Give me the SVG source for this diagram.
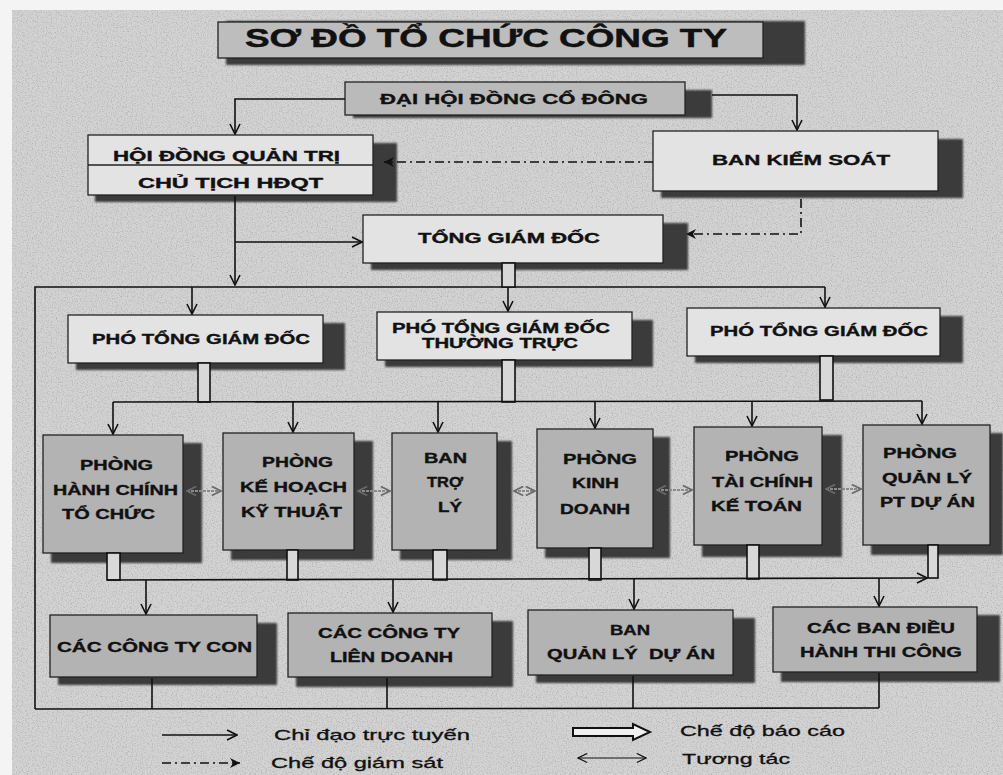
<svg xmlns="http://www.w3.org/2000/svg" width="1003" height="775" viewBox="0 0 1003 775">
<style>
.bg{fill:#d3d3d3}
.sh{fill:#3a3a3a;filter:url(#blur)}
.bl{fill:#e3e3e3;stroke:#222;stroke-width:1.3}
.bd{fill:#b3b3b3;stroke:#222;stroke-width:1.3}
.lbl{font-family:"Liberation Sans",Arial,sans-serif;font-weight:bold;font-size:14px;fill:#111;stroke:#111;stroke-width:0.35}
.ttl{font-family:"Liberation Sans",Arial,sans-serif;font-weight:bold;font-size:26px;fill:#111;stroke:#111;stroke-width:0.5}
.leg{font-family:"Liberation Sans",Arial,sans-serif;font-size:15px;fill:#111;stroke:#111;stroke-width:0.3}
.c{fill:none;stroke:#111;stroke-width:1.6}
.sup{fill:none;stroke:#111;stroke-width:1.6;stroke-dasharray:9 4 2 4}
.rep{fill:#d8d8d8;stroke:#111;stroke-width:1.6}
.int{fill:none;stroke:#8a8a8a;stroke-width:2;stroke-dasharray:3 1}
</style>
<defs>
<filter id="blur" x="-5%" y="-10%" width="110%" height="120%"><feGaussianBlur stdDeviation="1"/></filter>
<filter id="noise" x="0" y="0" width="100%" height="100%"><feTurbulence type="fractalNoise" baseFrequency="0.8" numOctaves="2" seed="4"/><feColorMatrix type="matrix" values="0 0 0 0 0.2  0 0 0 0 0.2  0 0 0 0 0.2  1.6 0 0 0 -0.75"/></filter>
<marker id="arr" viewBox="0 0 12 12" refX="11" refY="6" markerWidth="12" markerHeight="12" markerUnits="userSpaceOnUse" orient="auto"><path d="M1,1 L11,6 L1,11" fill="none" stroke="#111" stroke-width="1.6"/></marker>
<marker id="arrg" viewBox="0 0 12 12" refX="11" refY="6" markerWidth="11" markerHeight="11" markerUnits="userSpaceOnUse" orient="auto-start-reverse"><path d="M1,1 L11,6 L1,11" fill="none" stroke="#6a6a6a" stroke-width="1.8"/></marker>
<marker id="arrt" viewBox="0 0 12 12" refX="11" refY="6" markerWidth="11" markerHeight="11" markerUnits="userSpaceOnUse" orient="auto-start-reverse"><path d="M1,1 L11,6 L1,11" fill="none" stroke="#111" stroke-width="1.3"/></marker>
<marker id="arrf" viewBox="0 0 12 12" refX="11" refY="6" markerWidth="12" markerHeight="12" markerUnits="userSpaceOnUse" orient="auto"><path d="M1,1 L11,6 L1,11 L4,6 Z" fill="#111"/></marker>
</defs>

<rect x="0" y="0" width="1003" height="775" fill="#f4f4f4"/>
<rect class="bg" x="12" y="10" width="991" height="765"/>
<rect x="12" y="10" width="991" height="765" filter="url(#noise)" opacity="0.6"/>

<g id="title">
<rect class="sh" x="226" y="21" width="579" height="44"/>
<rect class="bd" x="218" y="22" width="545" height="36" style="fill:#bdbdbd"/>
<text class="ttl" x="245" y="47" textLength="482" lengthAdjust="spacingAndGlyphs">SƠ ĐỒ TỔ CHỨC CÔNG TY</text>
</g>

<g id="n-dhdcd">
<rect class="sh" x="353" y="90" width="359" height="28"/>
<rect class="bd" x="345" y="82" width="340" height="33" style="fill:#bababa"/>
<text class="lbl" x="380" y="104" textLength="268" lengthAdjust="spacingAndGlyphs">ĐẠI HỘI ĐỒNG CỔ ĐÔNG</text>
</g>

<g id="n-hdqt">
<rect class="sh" x="95" y="143" width="302" height="59"/>
<rect class="bl" x="88" y="135" width="285" height="60"/>
<line x1="88" y1="165" x2="373" y2="165" stroke="#222" stroke-width="1.3"/>
<text class="lbl" x="113" y="161" textLength="227" lengthAdjust="spacingAndGlyphs">HỘI ĐỒNG QUẢN TRỊ</text>
<text class="lbl" x="138" y="188" textLength="185" lengthAdjust="spacingAndGlyphs">CHỦ TỊCH HĐQT</text>
</g>

<g id="n-bks">
<rect class="sh" x="661" y="139" width="302" height="59"/>
<rect class="bl" x="653" y="131" width="285" height="60"/>
<text class="lbl" x="712" y="165" textLength="178" lengthAdjust="spacingAndGlyphs">BAN KIỂM SOÁT</text>
</g>

<g id="n-tgd">
<rect class="sh" x="371" y="223" width="317" height="47"/>
<rect class="bl" x="363" y="215" width="300" height="48"/>
<text class="lbl" x="418" y="243" textLength="182" lengthAdjust="spacingAndGlyphs">TỔNG GIÁM ĐỐC</text>
</g>

<g id="n-ptgd1">
<rect class="sh" x="76" y="323" width="269" height="47"/>
<rect class="bl" x="68" y="315" width="255" height="48"/>
<text class="lbl" x="92" y="344" textLength="218" lengthAdjust="spacingAndGlyphs">PHÓ TỔNG GIÁM ĐỐC</text>
</g>

<g id="n-ptgd2">
<rect class="sh" x="385" y="320" width="268" height="47"/>
<rect class="bl" x="377" y="312" width="255" height="48"/>
<text class="lbl" x="392" y="333" textLength="218" lengthAdjust="spacingAndGlyphs">PHÓ TỔNG GIÁM ĐỐC</text>
<text class="lbl" x="422" y="348" textLength="156" lengthAdjust="spacingAndGlyphs">THƯỜNG TRỰC</text>
</g>

<g id="n-ptgd3">
<rect class="sh" x="695" y="316" width="268" height="47"/>
<rect class="bl" x="687" y="308" width="253" height="48"/>
<text class="lbl" x="710" y="336" textLength="218" lengthAdjust="spacingAndGlyphs">PHÓ TỔNG GIÁM ĐỐC</text>
</g>

<g id="n-hcth">
<rect class="sh" x="51" y="443" width="151" height="120"/>
<rect class="bd" x="43" y="435" width="140" height="118"/>
<text class="lbl" x="80" y="470" textLength="73" lengthAdjust="spacingAndGlyphs">PHÒNG</text>
<text class="lbl" x="53" y="495" textLength="125" lengthAdjust="spacingAndGlyphs">HÀNH CHÍNH</text>
<text class="lbl" x="62" y="519" textLength="93" lengthAdjust="spacingAndGlyphs">TỔ CHỨC</text>
</g>

<g id="n-khkt">
<rect class="sh" x="231" y="441" width="142" height="119"/>
<rect class="bd" x="223" y="433" width="131" height="117"/>
<text class="lbl" x="262" y="467" textLength="71" lengthAdjust="spacingAndGlyphs">PHÒNG</text>
<text class="lbl" x="240" y="492" textLength="107" lengthAdjust="spacingAndGlyphs">KẾ HOẠCH</text>
<text class="lbl" x="241" y="517" textLength="101" lengthAdjust="spacingAndGlyphs">KỸ THUẬT</text>
</g>

<g id="n-btl">
<rect class="sh" x="400" y="441" width="112" height="119"/>
<rect class="bd" x="392" y="433" width="105" height="117"/>
<text class="lbl" x="424" y="463" textLength="43" lengthAdjust="spacingAndGlyphs">BAN</text>
<text class="lbl" x="427" y="487" textLength="36" lengthAdjust="spacingAndGlyphs">TRỢ</text>
<text class="lbl" x="438" y="512" textLength="24" lengthAdjust="spacingAndGlyphs">LÝ</text>
</g>

<g id="n-kd">
<rect class="sh" x="545" y="437" width="125" height="121"/>
<rect class="bd" x="537" y="429" width="116" height="119"/>
<text class="lbl" x="563" y="464" textLength="74" lengthAdjust="spacingAndGlyphs">PHÒNG</text>
<text class="lbl" x="572" y="488" textLength="47" lengthAdjust="spacingAndGlyphs">KINH</text>
<text class="lbl" x="560" y="514" textLength="70" lengthAdjust="spacingAndGlyphs">DOANH</text>
</g>

<g id="n-tckt">
<rect class="sh" x="702" y="435" width="140" height="122"/>
<rect class="bd" x="694" y="427" width="128" height="118"/>
<text class="lbl" x="725" y="461" textLength="74" lengthAdjust="spacingAndGlyphs">PHÒNG</text>
<text class="lbl" x="712" y="487" textLength="101" lengthAdjust="spacingAndGlyphs">TÀI CHÍNH</text>
<text class="lbl" x="711" y="511" textLength="91" lengthAdjust="spacingAndGlyphs">KẾ TOÁN</text>
</g>

<g id="n-qlda">
<rect class="sh" x="871" y="433" width="132" height="122"/>
<rect class="bd" x="863" y="425" width="127" height="120"/>
<text class="lbl" x="883" y="458" textLength="74" lengthAdjust="spacingAndGlyphs">PHÒNG</text>
<text class="lbl" x="882" y="483" textLength="90" lengthAdjust="spacingAndGlyphs">QUẢN LÝ</text>
<text class="lbl" x="880" y="507" textLength="95" lengthAdjust="spacingAndGlyphs">PT DỰ ÁN</text>
</g>

<g id="n-ctcon">
<rect class="sh" x="58" y="623" width="219" height="62"/>
<rect class="bd" x="50" y="615" width="207" height="62"/>
<text class="lbl" x="57" y="652" textLength="195" lengthAdjust="spacingAndGlyphs">CÁC CÔNG TY CON</text>
</g>

<g id="n-ctld">
<rect class="sh" x="296" y="621" width="217" height="66"/>
<rect class="bd" x="288" y="613" width="204" height="64"/>
<text class="lbl" x="318" y="638" textLength="142" lengthAdjust="spacingAndGlyphs">CÁC CÔNG TY</text>
<text class="lbl" x="330" y="662" textLength="123" lengthAdjust="spacingAndGlyphs">LIÊN DOANH</text>
</g>

<g id="n-bqlda">
<rect class="sh" x="536" y="618" width="219" height="65"/>
<rect class="bd" x="528" y="610" width="205" height="65"/>
<text class="lbl" x="610" y="635" textLength="40" lengthAdjust="spacingAndGlyphs">BAN</text>
<text class="lbl" x="547" y="659" textLength="168" lengthAdjust="spacingAndGlyphs" xml:space="preserve">QUẢN LÝ  DỰ ÁN</text>
</g>

<g id="n-cbdh">
<rect class="sh" x="781" y="615" width="219" height="67"/>
<rect class="bd" x="773" y="607" width="204" height="65"/>
<text class="lbl" x="807" y="633" textLength="148" lengthAdjust="spacingAndGlyphs">CÁC BAN ĐIỀU</text>
<text class="lbl" x="800" y="657" textLength="162" lengthAdjust="spacingAndGlyphs">HÀNH THI CÔNG</text>
</g>

<g id="connectors">
<polyline class="c" points="345,99 235,99 235,134" marker-end="url(#arr)"/>
<polyline class="c" points="712,95 797,95 797,130" marker-end="url(#arr)"/>
<polyline class="sup" points="653,162 384,162" marker-end="url(#arrf)"/>
<polyline class="sup" points="801,199 801,234 686,234" marker-end="url(#arrf)"/>
<polyline class="c" points="235,196 235,285" marker-end="url(#arr)"/>
<polyline class="c" points="235,242 362,242" marker-end="url(#arr)"/>
<polyline class="c" points="35,709 35,287 825,287"/>
<polyline class="c" points="192,287 192,314" marker-end="url(#arr)"/>
<polyline class="c" points="508,287 508,311" marker-end="url(#arr)"/>
<polyline class="c" points="825,287 825,307" marker-end="url(#arr)"/>
<rect class="rep" x="502" y="263" width="13" height="24"/>
<rect class="rep" x="198" y="363" width="12" height="39"/>
<rect class="rep" x="502" y="360" width="13" height="42"/>
<rect class="rep" x="820" y="356" width="13" height="44"/>
<polyline class="c" points="113,402 922,401"/>
<polyline class="c" points="113,402 113,434" marker-end="url(#arr)"/>
<polyline class="c" points="293,402 293,432" marker-end="url(#arr)"/>
<polyline class="c" points="438,402 438,432" marker-end="url(#arr)"/>
<polyline class="c" points="595,401 595,428" marker-end="url(#arr)"/>
<polyline class="c" points="752,401 752,426" marker-end="url(#arr)"/>
<polyline class="c" points="922,401 922,424" marker-end="url(#arr)"/>
<line class="int" x1="187" y1="491" x2="221" y2="491" marker-start="url(#arrg)" marker-end="url(#arrg)"/>
<line class="int" x1="358" y1="491" x2="390" y2="491" marker-start="url(#arrg)" marker-end="url(#arrg)"/>
<line class="int" x1="514" y1="491" x2="535" y2="491" marker-start="url(#arrg)" marker-end="url(#arrg)"/>
<line class="int" x1="657" y1="490" x2="692" y2="490" marker-start="url(#arrg)" marker-end="url(#arrg)"/>
<line class="int" x1="826" y1="489" x2="861" y2="489" marker-start="url(#arrg)" marker-end="url(#arrg)"/>
<rect class="rep" x="107" y="553" width="13" height="27"/>
<rect class="rep" x="287" y="550" width="11" height="30"/>
<rect class="rep" x="433" y="550" width="14" height="30"/>
<rect class="rep" x="589" y="548" width="12" height="32"/>
<rect class="rep" x="747" y="545" width="12" height="34"/>
<rect class="rep" x="928" y="545" width="10" height="33"/>
<polyline class="c" points="107,580 927,578" marker-end="url(#arr)"/>
<polyline class="c" points="146,580 146,614" marker-end="url(#arr)"/>
<polyline class="c" points="393,580 393,612" marker-end="url(#arr)"/>
<polyline class="c" points="634,579 634,609" marker-end="url(#arr)"/>
<polyline class="c" points="879,578 879,606" marker-end="url(#arr)"/>
<polyline class="c" points="35,709 879,708"/>
<polyline class="c" points="152,709 152,678"/>
<polyline class="c" points="387,709 387,678"/>
<polyline class="c" points="633,709 633,676"/>
<polyline class="c" points="879,708 879,673"/>
</g>

<g id="legend">
<line class="c" x1="162" y1="735" x2="237" y2="735" marker-end="url(#arr)"/>
<text class="leg" x="274" y="740" textLength="196" lengthAdjust="spacingAndGlyphs">Chỉ đạo trực tuyến</text>
<line class="sup" x1="162" y1="763" x2="240" y2="763" marker-end="url(#arrf)"/>
<text class="leg" x="271" y="768" textLength="172" lengthAdjust="spacingAndGlyphs">Chế độ giám sát</text>
<path d="M573,728 H633 V724 L650,732 L633,740 V736 H573 Z" fill="#f0f0f0" stroke="#111" stroke-width="2"/>
<text class="leg" x="680" y="736" textLength="165" lengthAdjust="spacingAndGlyphs">Chế độ báo cáo</text>
<line x1="578" y1="758" x2="646" y2="758" stroke="#111" stroke-width="1.2" marker-start="url(#arrt)" marker-end="url(#arrt)"/>
<text class="leg" x="682" y="764" textLength="108" lengthAdjust="spacingAndGlyphs">Tương tác</text>
</g>
</svg>
